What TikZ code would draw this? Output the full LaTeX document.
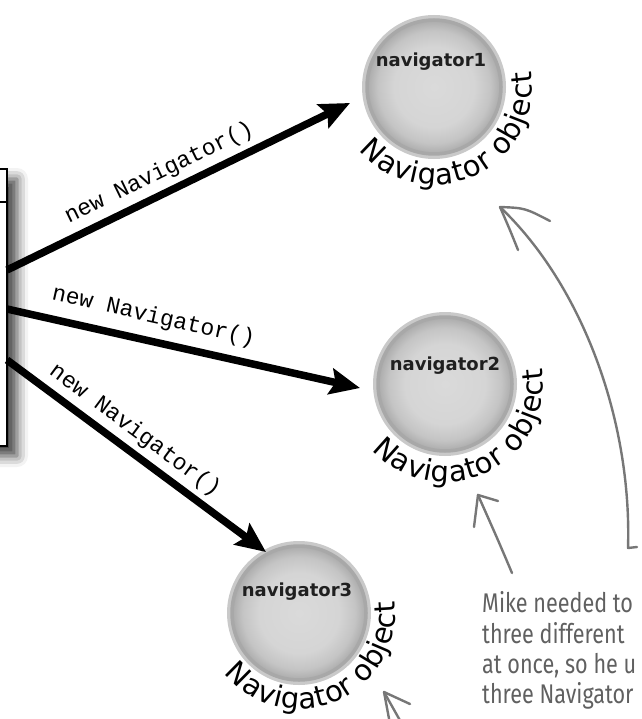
\documentclass[tikz,border=0pt]{standalone}
\usepackage{fontspec}
\setmainfont{DejaVu Sans}
\newfontfamily\monof{Liberation Mono}
\newfontfamily\labf{DejaVu Sans}
\newfontfamily\curvef{DejaVu Sans}
\newfontfamily\handf[FakeStretch=0.8]{Fira Sans}
\usetikzlibrary{arrows.meta,decorations.text,shadows.blur,calc}
\definecolor{pen}{HTML}{777777}
\definecolor{notecol}{HTML}{606060}
\pgfdeclareradialshading{navball}{\pgfpoint{0bp}{0bp}}{color(0bp)=(gray!29); color(15bp)=(gray!33); color(21bp)=(gray!46); color(25bp)=(gray!66); color(50bp)=(gray!66)}
\begin{document}
\begin{tikzpicture}[x=1pt,y=-1pt,
  bigarrow/.style={line width=7.5pt, -{Stealth[length=30pt,width=26pt,inset=5pt]}},
  calltext/.style={font=\monof\fontsize{23}{23}\selectfont, inner sep=1pt, sloped},
  navobj/.style={circle, minimum size=134pt, inner sep=0pt, preaction={draw=gray!42, line width=10pt}, shade, shading=navball, draw=gray!68, line width=3.5pt},
  navname/.style={font=\labf\bfseries\fontsize{18}{18}\selectfont, text=black!88},
  penline/.style={draw=pen, line width=2.4pt, line cap=round, line join=round},
  notetext/.style={font=\handf\fontsize{27}{27}\selectfont, text=notecol, anchor=base west, inner sep=0pt},
  curved/.style={decorate, decoration={text effects along path, text={Navigator object},
     text effects/.cd, text along path, fit text to path,
     characters={font=\curvef\fontsize{29}{29}\selectfont, text=black}}},
]
\useasboundingbox (0,0) rectangle (641,719);

% left box (partly outside the picture)
\node (box) [draw, fill=white, line width=1.6pt, minimum width=40pt, minimum height=277pt, inner sep=0pt,
  blur shadow={shadow xshift=10pt, shadow yshift=-10pt, shadow blur radius=11pt, shadow opacity=75}] at (-13,307.5) {};
\draw[line width=1.6pt] ($(box.north west)+(0,34)$) -- ($(box.north east)+(0,34)$);

% objects
\coordinate (c1) at (434,87);
\coordinate (c2) at (445,384);
\coordinate (c3) at (299,613);
\node[navobj] (nav1) at (c1) {};
\node[navobj] (nav2) at (c2) {};
\node[navobj] (nav3) at (c3) {};
\node[navname] (l1) at (431,62) {navigator1};
\node[navname] (l2) at (445,366) {navigator2};
\node[navname] (l3) at (297,592) {navigator3};

\path[curved] ($(c1)+(220:98pt)$) arc[start angle=220, end angle=369, radius=98pt];
\path[curved] ($(c2)+(222:98pt)$) arc[start angle=222, end angle=369, radius=98pt];
\path[curved] ($(c3)+(219:96pt)$) arc[start angle=219, end angle=367, radius=96pt];

% creation arrows
\coordinate (s1) at (7,270);
\coordinate (s2) at (7,309);
\coordinate (s3) at (7,360);
\coordinate (t1) at (350,103);
\coordinate (t2) at (360,388);
\coordinate (t3) at (266,552);
\draw[bigarrow] (s1) -- node[calltext, pos=0.47, above=5pt] {new Navigator()} (t1);
\draw[bigarrow] (s2) -- node[calltext, pos=0.40, above=9pt] {new Navigator()} (t2);
\draw[bigarrow] (s3) -- node[calltext, pos=0.45, above=4pt] {new Navigator()} (t3);

% hand-drawn pointers
\coordinate (ta) at (628,548);
\coordinate (h1) at (500,207);
\draw[penline] (637,547) -- (ta) .. controls (632,420) and (582,285) .. (h1);
\draw[penline] (518,250) .. controls (510,230) .. (h1) .. controls (525,208) .. (550,221);
\coordinate (tb) at (512,573);
\coordinate (h2) at (478,495);
\draw[penline] (tb) .. controls (498,540) .. (h2);
\draw[penline] (474,527) -- (h2) -- (498,501);
\coordinate (h3) at (384,692);
\draw[penline] (h3) -- (402,724);
\draw[penline] (390,724) -- (h3) -- (410,704);

% note
\node[notetext] (m1) at (482,612) {Mike needed to};
\node[notetext] (m2) at (482,643) {three different};
\node[notetext] (m3) at (482,673) {at once, so he u};
\node[notetext] (m4) at (482,703) {three Navigator};
\end{tikzpicture}
\end{document}
